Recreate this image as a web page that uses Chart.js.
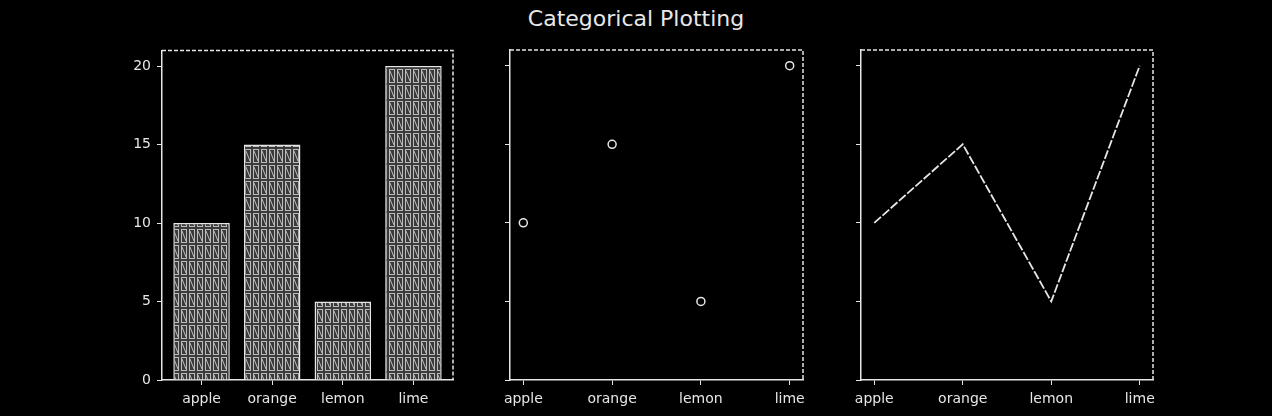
<!DOCTYPE html>
<html>
<head>
<meta charset="utf-8">
<script src="https://cdn.jsdelivr.net/npm/chart.js@4"></script>
<style>
  html, body { margin: 0; padding: 0; background: #000; }
  body { width: 1272px; height: 416px; position: relative; overflow: hidden; }
  #title {
    position: absolute; left: 0; top: 6px; width: 1272px; text-align: center;
    color: #e8e8e8; font: 22px "DejaVu Sans", sans-serif;
  }
  .box { position: absolute; top: 40px; height: 376px; }
  #b1 { left: 100px; width: 363px; top: 36px; height: 380px; }
  #b2 { left: 490px; width: 323px; }
  #b3 { left: 841px; width: 322px; }
</style>
</head>
<body>
<div id="title">Categorical Plotting</div>
<div class="box" id="b1"><canvas id="c1"></canvas></div>
<div class="box" id="b2"><canvas id="c2"></canvas></div>
<div class="box" id="b3"><canvas id="c3"></canvas></div>
<script>
// ─── Data ────────────────────────────────────────────
const names  = ['apple', 'orange', 'lemon', 'lime'];
const values = [10, 15, 5, 20];
const yTicks = [0, 5, 10, 15, 20];

const FG = '#e6e6e6';
Chart.defaults.font.family = '"DejaVu Sans", sans-serif';
Chart.defaults.font.size = 14;
Chart.defaults.color = FG;
Chart.defaults.animation = false;

// hatched-cell fill for the bars
function cellPattern() {
  const c = document.createElement('canvas');
  c.width = 8; c.height = 16;
  const g = c.getContext('2d');
  g.fillStyle = '#3a3a3a';
  g.fillRect(0, 0, 8, 16);
  g.strokeStyle = '#bdbdbd';
  g.lineWidth = 1;
  g.strokeRect(1.5, 1.5, 5, 13);
  g.beginPath(); g.moveTo(2, 3); g.lineTo(6, 13); g.stroke();
  return g.createPattern(c, 'repeat');
}

// dashed top/right spines
const framePlugin = {
  id: 'frame',
  afterDraw(chart) {
    const { ctx, chartArea: a } = chart;
    ctx.save();
    ctx.strokeStyle = FG;
    ctx.lineWidth = 1.5;
    ctx.setLineDash([4, 2]);
    ctx.beginPath();
    ctx.moveTo(a.left, a.top); ctx.lineTo(a.right, a.top);
    ctx.lineTo(a.right, a.bottom);
    ctx.stroke();
    ctx.restore();
  }
};

function yScale(showLabels, width) {
  return {
    min: 0, max: 21,
    afterBuildTicks: s => { s.ticks = yTicks.map(v => ({ value: v })); },
    afterFit: s => { s.width = width; },
    grid: { drawOnChartArea: false, color: FG, tickLength: 5 },
    border: { color: FG, width: 1.5 },
    ticks: { display: showLabels, padding: 6, color: FG },
  };
}

function xLinear(min, max) {
  return {
    type: 'linear', min, max, offset: false,
    afterBuildTicks: s => { s.ticks = names.map((n, i) => ({ value: i })); },
    afterFit: s => { s.height = 36; },
    grid: { drawOnChartArea: false, offset: false, color: FG, tickLength: 5 },
    border: { color: FG, width: 1.5 },
    ticks: { color: FG, maxRotation: 0, padding: 6, callback: v => names[v] },
  };
}

const baseOpts = {
  responsive: true,
  maintainAspectRatio: false,
  layout: { padding: { top: 10, right: 10, left: 0, bottom: 0 } },
  plugins: { legend: { display: false }, tooltip: { enabled: false } },
};

const points = values.map((v, i) => ({ x: i, y: v }));

// ─── Bar ────────────────────────────────────────────
new Chart(document.getElementById('c1'), {
  type: 'bar',
  data: {
    datasets: [{
      data: points,
      backgroundColor: cellPattern(),
      borderColor: FG,
      borderWidth: 1.5,
      barPercentage: 0.8,
      categoryPercentage: 1,
    }],
  },
  options: {
    ...baseOpts,
    layout: { padding: { top: 4, right: 10, left: 0, bottom: 0 } },
    scales: { x: xLinear(-0.56, 3.56), y: yScale(true, 62) },
  },
  plugins: [framePlugin],
});

// ─── Scatter ────────────────────────────────────────
new Chart(document.getElementById('c2'), {
  type: 'scatter',
  data: {
    datasets: [{
      data: points,
      pointStyle: 'circle',
      pointRadius: 4,
      pointBackgroundColor: '#000',
      pointBorderColor: FG,
      pointBorderWidth: 1.5,
    }],
  },
  options: { ...baseOpts, scales: { x: xLinear(-0.15, 3.15), y: yScale(false, 20) } },
  plugins: [framePlugin],
});

// ─── Line ───────────────────────────────────────────
new Chart(document.getElementById('c3'), {
  type: 'line',
  data: {
    datasets: [{
      data: points,
      borderColor: FG,
      borderWidth: 1.8,
      borderDash: [9, 2],
      pointRadius: 0,
      tension: 0,
    }],
  },
  options: { ...baseOpts, scales: { x: xLinear(-0.15, 3.15), y: yScale(false, 20) } },
  plugins: [framePlugin],
});
</script>
</body>
</html>
